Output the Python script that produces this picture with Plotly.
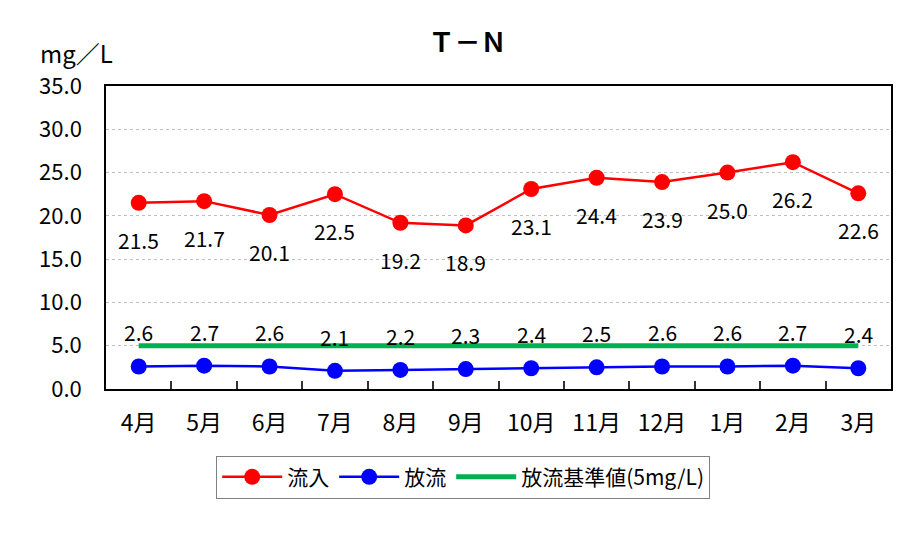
import plotly.graph_objects as go

months = ["4月", "5月", "6月", "7月", "8月", "9月", "10月", "11月", "12月", "1月", "2月", "3月"]
inflow = [21.5, 21.7, 20.1, 22.5, 19.2, 18.9, 23.1, 24.4, 23.9, 25.0, 26.2, 22.6]
outflow = [2.6, 2.7, 2.6, 2.1, 2.2, 2.3, 2.4, 2.5, 2.6, 2.6, 2.7, 2.4]
standard = [5.0] * 12
y_ticks = [0, 5, 10, 15, 20, 25, 30, 35]

FONT = "Noto Sans CJK JP"

fig = go.Figure()
fig.add_trace(go.Scatter(x=months, y=inflow, name="流入", mode="lines+markers",
                         line=dict(color="#ff0000", width=2.5),
                         marker=dict(color="#ff0000", size=16)))
fig.add_trace(go.Scatter(x=months, y=outflow, name="放流", mode="lines+markers",
                         line=dict(color="#0000ff", width=2.5),
                         marker=dict(color="#0000ff", size=16)))
fig.add_trace(go.Scatter(x=months, y=standard, name="放流基準値(5mg/L)", mode="lines",
                         line=dict(color="#00b050", width=5)))

# data labels
for m, v in zip(months, inflow):
    fig.add_annotation(x=m, y=v, text=f"{v:.1f}", showarrow=False, yshift=-37,
                       font=dict(size=21, color="black", family=FONT))
for m, v in zip(months, outflow):
    fig.add_annotation(x=m, y=v, text=f"{v:.1f}", showarrow=False, yshift=34,
                       font=dict(size=21, color="black", family=FONT))

fig.add_annotation(xref="paper", yref="paper", x=-0.086, y=1.11, xanchor="left", yanchor="middle",
                   text="mg／L", showarrow=False, font=dict(size=24, color="black", family=FONT))

fig.update_layout(
    width=913, height=536,
    margin=dict(l=106, r=22, t=86, b=147, autoexpand=False),
    paper_bgcolor="white", plot_bgcolor="white",
    font=dict(family=FONT, color="black", size=21),
    title=dict(text="<b>Ｔ－Ｎ</b>", x=0.512, xanchor="center", y=0.92, yanchor="middle",
               font=dict(size=26, family=FONT)),
    legend=dict(orientation="h", x=0.455, xanchor="center", y=-0.22, yanchor="top",
                bordercolor="#808080", borderwidth=1, font=dict(size=21, family=FONT),
                itemwidth=60, tracegroupgap=0),
    showlegend=True,
)
fig.update_xaxes(type="category", range=[-0.5, len(months) - 0.5],
                 showline=True, linecolor="black", linewidth=1.5, mirror=True,
                 tickson="boundaries", ticks="inside", ticklen=8, tickwidth=1.5, tickcolor="#333333",
                 ticklabelstandoff=13, showgrid=False, tickfont=dict(size=23), automargin=False)
fig.update_yaxes(range=[0, 35], tickvals=y_ticks, tickformat=".1f",
                 showline=True, linecolor="black", linewidth=1.5, mirror=True,
                 showgrid=True, gridcolor="#c0c0c0", griddash="dot", zeroline=False,
                 ticks="", ticklabelstandoff=18, tickfont=dict(size=22), automargin=False)

fig.write_html("out.html", config={"displayModeBar": False},
               post_script="document.body.style.margin='0px';")
